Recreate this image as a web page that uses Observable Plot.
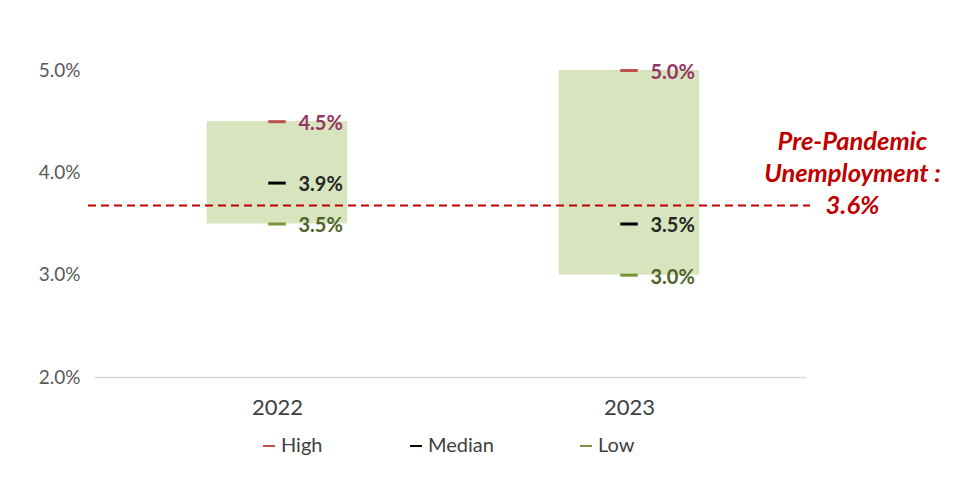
<!DOCTYPE html>
<html>
<head>
<meta charset="utf-8">
<script src="https://cdn.jsdelivr.net/npm/d3@7"></script>
<script src="https://cdn.jsdelivr.net/npm/@observablehq/plot@0.6"></script>
<style>
  body { margin: 0; background: #fff; font-family: Lato, "Open Sans", sans-serif; }
  #wrap { width: 955px; position: relative; }
  #legend { position: relative; height: 28px; font-size: 20px; color: #404040; }
  #legend .item { position: absolute; top: 0; line-height: 28px; white-space: nowrap; }
  #legend .sw { display: inline-block; width: 12px; height: 2px; vertical-align: middle; margin-right: 6px; position: relative; top: -1px; }
</style>
</head>
<body>
<div id="wrap">
  <div id="chart"></div>
  <div id="legend"></div>
</div>
<script>
const years = ["2022", "2023"];
const high = [4.5, 5.0];
const median = [3.9, 3.5];
const low = [3.5, 3.0];
const preLine = 3.68;
const preLabel = "3.6%";
const yTicks = [2, 3, 4, 5];

const colHigh = "#C0504D", colMed = "#000000", colLow = "#77933C";
const labHigh = "#953563", labMed = "#262626", labLow = "#4F6228";

const data = years.map((y, i) => ({year: y, high: high[i], median: median[i], low: low[i]}));
const fmt = v => v.toFixed(1) + "%";

const chart = Plot.plot({
  width: 955,
  height: 430,
  marginLeft: 100,
  marginRight: 150,
  marginTop: 70,
  marginBottom: 53,
  style: {fontFamily: "Lato, 'Open Sans', sans-serif", background: "#fff"},
  x: {type: "band", domain: years, padding: 0, label: null},
  y: {domain: [2, 5], label: null},
  marks: [
    Plot.barY(data, {x: "year", y1: "low", y2: "high", fill: "#D7E4BD", insetLeft: 105.75, insetRight: 105.75}),
    Plot.ruleY([2], {stroke: "#D9D9D9", strokeWidth: 1.5, insetLeft: -5, insetRight: -1}),
    Plot.ruleY([preLine], {stroke: "#C00000", strokeWidth: 2, strokeDasharray: "8,5", insetLeft: -12, insetRight: -5}),
    Plot.tickY(data, {x: "year", y: "high", stroke: colHigh, strokeWidth: 3, inset: 167.25}),
    Plot.tickY(data, {x: "year", y: "median", stroke: colMed, strokeWidth: 3, inset: 167.25}),
    Plot.tickY(data, {x: "year", y: "low", stroke: colLow, strokeWidth: 3, inset: 167.25}),
    Plot.text(data, {x: "year", y: "high", text: d => fmt(d.high), fill: labHigh, dx: 21, dy: 2, textAnchor: "start", fontSize: 20, fontWeight: "bold"}),
    Plot.text(data, {x: "year", y: "median", text: d => fmt(d.median), fill: labMed, dx: 21, dy: 2, textAnchor: "start", fontSize: 20, fontWeight: "bold"}),
    Plot.text(data, {x: "year", y: "low", text: d => fmt(d.low), fill: labLow, dx: 21, dy: 2, textAnchor: "start", fontSize: 20, fontWeight: "bold"}),
    Plot.text([`Pre-Pandemic\nUnemployment :\n${preLabel}`], {frameAnchor: "right", dx: 47, dy: -52, text: d => d, textAnchor: "middle", lineAnchor: "middle", lineHeight: 1.25, fill: "#C00000", fontSize: 25.5, fontWeight: "bold", fontStyle: "italic"}),
    Plot.axisY({ticks: yTicks, tickFormat: fmt, tickSize: 0, tickPadding: 20, fontSize: 19, fill: "#595959"}),
    Plot.axisX({tickSize: 0, tickPadding: 22, fontSize: 22, fill: "#404040"})
  ]
});
document.getElementById("chart").appendChild(chart);

const legendItems = [["High", colHigh, 263], ["Median", colMed, 410], ["Low", colLow, 580]];
const lg = document.getElementById("legend");
for (const [name, c, left] of legendItems) {
  const s = document.createElement("span");
  s.className = "item";
  s.style.left = left + "px";
  s.innerHTML = `<span class="sw" style="background:${c}"></span>${name}`;
  lg.appendChild(s);
}
</script>
</body>
</html>
